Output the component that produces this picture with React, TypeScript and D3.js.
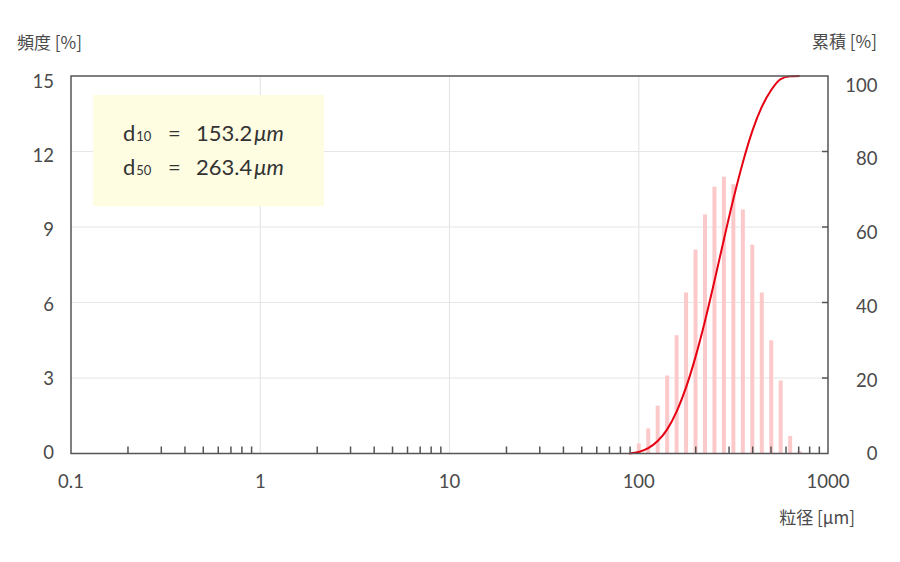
import { useEffect } from 'react';
import * as d3 from 'd3';

// particle size bins (µm) and frequency [%]
const binSizes = [100, 112.2, 125.9, 141.3, 158.5, 177.8, 199.5, 223.9, 251.2, 281.8, 316.2, 354.8, 398.1, 446.7, 501.2, 562.3, 631.0, 707.9];
const frequency = [0.4, 1.0, 1.9, 3.1, 4.7, 6.4, 8.1, 9.5, 10.6, 11.0, 10.7, 9.7, 8.3, 6.4, 4.5, 2.9, 0.7, 0.1];

// cumulative curve [%]
const cumSizes = [89.1, 100, 112.2, 125.9, 141.3, 158.5, 177.8, 199.5, 223.9, 251.2, 281.8, 316.2, 354.8, 398.1, 446.7, 501.2, 562.3, 631.0, 707.9];
const cumulative = [0, 0.4, 1.4, 3.3, 6.4, 11.1, 17.5, 25.6, 35.1, 45.7, 56.7, 67.4, 77.1, 85.4, 91.8, 96.3, 99.2, 99.9, 100];

const xTicks = [0.1, 1, 10, 100, 1000];
const xTickLabels = ['0.1', '1', '10', '100', '1000'];
const leftTicks = [0, 3, 6, 9, 12, 15];
const rightTicks = [0, 20, 40, 60, 80, 100];

const W = 900;
const H = 562;
const M = { left: 71, right: 828, top: 76, bottom: 453.5 };
const FONT = "Lato, 'Noto Sans CJK JP', sans-serif";
const CJK = "'Noto Sans CJK JP', sans-serif";
const TXT = '#4a4a4a';

export default function App() {
  useEffect(() => {
    document.body.style.margin = '0';
  }, []);

  const x = d3.scaleLog().domain([0.1, 1000]).range([M.left, M.right]);
  const y = d3.scaleLinear().domain([0, 15]).range([M.bottom, M.top]);
  const yR = d3.scaleLinear().domain([0, 100]).range([M.bottom, M.top]);
  // tick labels sit slightly lower than their ticks in the original
  const yLab = d3.scaleLinear().domain([0, 15]).range([452, 81.7]);
  const yRLab = d3.scaleLinear().domain([0, 100]).range([453.7, 85]);

  const minor: number[] = [];
  [0.1, 1, 10, 100].forEach((d) => {
    for (let m = 2; m <= 9; m++) minor.push(d * m);
  });

  const line = d3.line<number>()
    .x((_, i) => x(cumSizes[i]))
    .y((v) => yR(v))
    .curve(d3.curveMonotoneX);

  const barW = 4;

  return (
    <svg width={W} height={H} style={{ display: 'block', background: '#fff' }} fontFamily={FONT}>
      {/* grid */}
      {leftTicks.filter((t) => t > 0 && t < 15).map((t) => (
        <line key={'gy' + t} x1={M.left} x2={M.right} y1={y(t)} y2={y(t)} stroke="#e6e6e6" strokeWidth={1.2} />
      ))}
      {xTicks.slice(1, -1).map((t) => (
        <line key={'gx' + t} x1={x(t)} x2={x(t)} y1={M.top} y2={M.bottom} stroke="#e6e6e6" strokeWidth={1.2} />
      ))}

      {/* legend box */}
      <rect x={93} y={95} width={231} height={111} fill="#fefde2" />
      <g fill="#333" fontSize={22}>
        <text x={123} y={141}>d<tspan fontSize={13} dx={1}>10</tspan></text>
        <text x={168} y={141}>=</text>
        <text x={196} y={141}>153.2<tspan fontStyle="italic" dx={2}>μm</tspan></text>
        <text x={123} y={174.5}>d<tspan fontSize={13} dx={1}>50</tspan></text>
        <text x={168} y={174.5}>=</text>
        <text x={196} y={174.5}>263.4<tspan fontStyle="italic" dx={2}>μm</tspan></text>
      </g>

      {/* frequency bars */}
      {frequency.map((v, i) => (
        <rect key={'b' + i} x={x(binSizes[i]) - barW / 2} y={y(v)} width={barW} height={y(0) - y(v)} fill="#fcc9cb" />
      ))}

      {/* cumulative curve */}
      <path d={line(cumulative) ?? ''} fill="none" stroke="#e60012" strokeWidth={2} />

      {/* frame */}
      <rect x={M.left} y={M.top} width={M.right - M.left} height={M.bottom - M.top} fill="none" stroke="#555" strokeWidth={1.5} />

      {/* minor x ticks */}
      {minor.map((t) => (
        <line key={'mx' + t} x1={x(t)} x2={x(t)} y1={M.bottom} y2={M.bottom - 7} stroke="#555" strokeWidth={1.5} />
      ))}

      {/* right ticks */}
      {rightTicks.filter((t) => t > 0 && t < 100).map((t) => (
        <line key={'rt' + t} x1={M.right - 6} x2={M.right} y1={yR(t)} y2={yR(t)} stroke="#555" strokeWidth={1.5} />
      ))}

      {/* labels */}
      <g fill={TXT} fontSize={18.5}>
        {xTicks.map((t, i) => (
          <text key={'xl' + t} x={x(t)} y={488} textAnchor="middle">{xTickLabels[i]}</text>
        ))}
        {leftTicks.map((t) => (
          <text key={'ll' + t} x={54} y={yLab(t)} dy="0.36em" textAnchor="end">{t}</text>
        ))}
        {rightTicks.map((t) => (
          <text key={'rl' + t} x={877.5} y={yRLab(t)} dy="0.36em" textAnchor="end">{t}</text>
        ))}
      </g>
      <g fill={TXT} fontSize={17} fontFamily={CJK}>
        <text x={17} y={49}>頻度 [%]</text>
        <text x={877} y={48} textAnchor="end">累積 [%]</text>
        <text x={855} y={524} textAnchor="end">粒径 [μm]</text>
      </g>
    </svg>
  );
}
